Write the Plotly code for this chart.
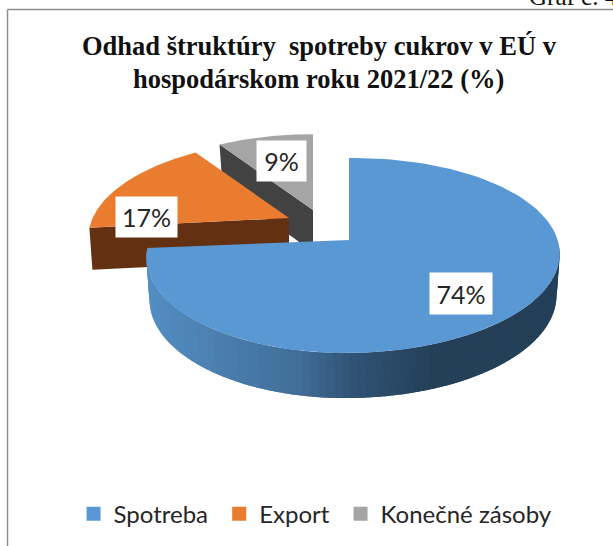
import numpy as np
import plotly.graph_objects as go

# --- data ---
categories = ["Spotreba", "Export", "Konečné zásoby"]
shares = [74, 17, 9]
title_lines = ["Odhad štruktúry  spotreby cukrov v EÚ v", "hospodárskom roku 2021/22 (%)"]
page_note = "Graf č. 4"

# --- styles / geometry of the tilted, exploded pie (pixel space) ---
TOP = ["#5a98d4", "#e97c2f", "#a5a5a5"]
SIDE = [None, "#633112", "#424242"]
PERSP = 0.16
PIE = [
    dict(ax=349, ay=240, rxr=208, rxl=200, ry=95, tilt=-2),
    dict(ax=289, ay=218, rxr=198, rxl=198, ry=91, tilt=-4),
    dict(ax=313, ay=210, rxr=198, rxl=198, ry=88, tilt=0),
]
LABEL_POS = [(461, 293.5), (146.5, 217), (281.5, 161)]
LABEL_SIZE = [(62, 41), (61, 40), (49, 40)]
DEPTH = 42
BAND_X = [147, 230, 300, 350, 400, 440, 560]
BAND_RGB = [(84, 142, 196), (74, 125, 172), (64, 110, 152), (49, 84, 118), (41, 72, 100), (36, 63, 88), (36, 63, 88)]
LEGEND_PAD = "\u00a0"


def project(p, t):
    t = np.asarray(t, float)
    s, c = np.sin(t), np.cos(t)
    den = 1 + PERSP * c
    rx = np.where(s >= 0, p["rxr"], p["rxl"])
    return p["ax"] + rx * s / den, p["ay"] - p["ry"] * c / den + p["tilt"] * s


fractions = np.array(shares, float) / sum(shares)
edges = np.concatenate([[0], np.cumsum(fractions)]) * 2 * np.pi

fig = go.Figure()


def poly(x, y, color):
    fig.add_trace(go.Scatter(x=x, y=y, mode="lines", fill="toself", fillcolor=color,
                             line=dict(color=color, width=0), hoverinfo="skip", showlegend=False))


# back-to-front: gray, orange, blue
for i in [2, 1, 0]:
    p = PIE[i]
    t = np.linspace(edges[i], edges[i + 1], 120)
    x, y = project(p, t)
    if i == 0:
        ts = np.linspace(np.radians(95), edges[1], 90)
        for a, b in zip(ts[:-1], ts[1:]):
            # each band runs a little under the next one so no seams show
            seg = np.linspace(a, min(b + 0.03, edges[1]), 4)
            sx, sy = project(p, seg)
            d = DEPTH - 1 + 4 * np.maximum(0, -np.cos(seg))
            bx = p["ax"] + (sx - p["ax"]) * 0.985
            mid = float(np.mean(project(p, [a, b])[0]))
            rgb = [np.interp(mid, BAND_X, [c[k] for c in BAND_RGB]) for k in range(3)]
            color = "rgb(%d,%d,%d)" % tuple(rgb)
            poly(np.r_[sx, bx[::-1]], np.r_[sy, (sy + d)[::-1]], color)
    else:
        ex, ey = x[0], y[0]
        poly([p["ax"], ex, ex + 3, p["ax"]],
             [p["ay"], ey, ey + DEPTH, p["ay"] + DEPTH], SIDE[i])
    poly(np.r_[p["ax"], x, p["ax"]], np.r_[p["ay"], y, p["ay"]], TOP[i])

# legend entries
for name, color in zip(categories, TOP):
    fig.add_trace(go.Scatter(x=[None], y=[None], mode="markers", name=name + LEGEND_PAD,
                             marker=dict(symbol="square", size=14, color=color)))

# data labels
for v, (lx, ly), (w, h) in zip(shares, LABEL_POS, LABEL_SIZE):
    fig.add_annotation(x=lx, y=ly, text=f"{v}%", showarrow=False, width=w, height=h,
                       bgcolor="white", borderpad=0,
                       font=dict(family="Lato", size=25, color="#262626"))

# title + clipped page note
for line, xx, yy in zip(title_lines, [319, 318], [46, 79]):
    fig.add_annotation(x=xx, y=yy, text=f"<b>{line}</b>", showarrow=False,
                       font=dict(family="Liberation Serif", size=26.5, color="#111111"))
fig.add_annotation(xref="paper", yref="paper", x=527 / 613, y=1 + 3.5 / 546, text=page_note,
                   showarrow=False, xanchor="left", yanchor="middle",
                   font=dict(family="Liberation Serif", size=25, color="#111111"))

# frame
frame = dict(type="line", line=dict(color="#8e8e8e", width=1.5), layer="above")
fig.add_shape(x0=7.5, x1=613, y0=9.5, y1=9.5, **frame)
fig.add_shape(x0=7.5, x1=7.5, y0=9.5, y1=546, **frame)

fig.update_layout(
    width=613, height=546, margin=dict(l=0, r=0, t=0, b=0),
    paper_bgcolor="white", plot_bgcolor="white",
    xaxis=dict(range=[0, 613], visible=False, fixedrange=True),
    yaxis=dict(range=[546, 0], visible=False, fixedrange=True),
    legend=dict(orientation="h", x=0.12, y=0.017, xanchor="left", yanchor="bottom",
                font=dict(family="Lato", size=24, color="#262626"),
                bgcolor="rgba(0,0,0,0)", itemwidth=30, tracegroupgap=0),
)
fig.write_html("out.html", config=dict(displayModeBar=False),
               post_script="document.body.style.margin='0';document.body.style.overflow='hidden';")
